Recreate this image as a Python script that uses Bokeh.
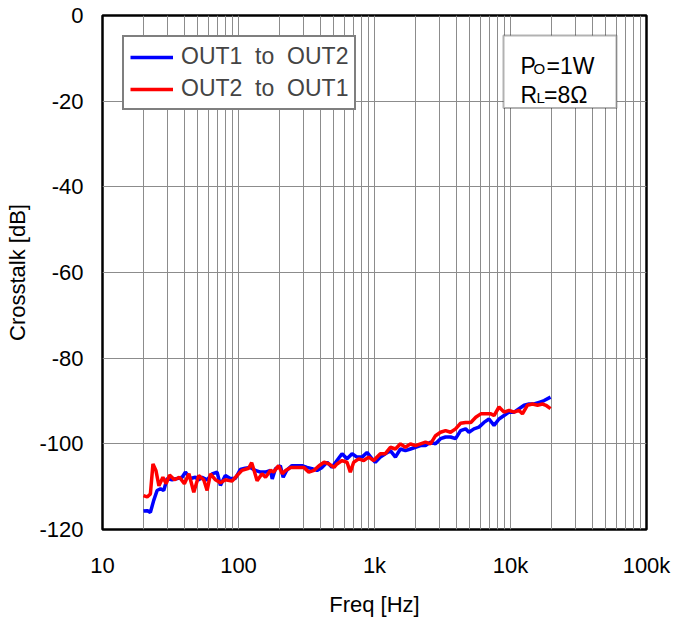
from bokeh.plotting import figure
from bokeh.models import (FixedTicker, Legend, LegendItem, BoxAnnotation, Label,
                          CustomJSTickFormatter)
from bokeh.embed import file_html
from bokeh.resources import INLINE

# ---- data ----
freq_out1 = [20, 21.3, 22.5, 23.8, 25.2, 26.7, 28.2, 29.9, 32.5, 35.4,
             38.5, 40.7, 44.3, 48.2, 51, 53.9, 58.8, 64, 69.6, 73.6,
             80, 87.1, 94.8, 103, 112, 122, 133, 145, 158, 172,
             177, 187, 203, 213, 226, 246, 270, 293, 319, 347,
             378, 412, 448, 487, 530, 577, 628, 684, 744, 810,
             881, 959, 1014, 1104, 1202, 1309, 1425, 1551, 1688, 1838,
             2001, 2178, 2371, 2581, 2810, 3059, 3330, 3625, 3946, 4296,
             4677, 4947, 5386, 5863, 6383, 6948, 7564, 8234, 8964, 9758,
             10623, 11564, 12589, 13705, 14920, 16242, 17681, 19700]
db_out1 = [-115.7, -115.6, -116.0, -113.2, -110.9, -110.5, -110.9, -108.1, -108.4, -108.1,
           -107.8, -106.6, -108.1, -107.8, -108.4, -107.8, -108.4, -107.0, -106.6, -109.7,
           -107.4, -108.1, -108.1, -106.0, -105.7, -105.5, -106.2, -106.6, -106.6, -106.2,
           -108.2, -105.8, -105.1, -107.8, -106.2, -105.1, -105.1, -105.1, -105.5, -105.8,
           -106.2, -105.5, -104.3, -105.5, -103.9, -102.3, -103.5, -102.3, -103.1, -103.1,
           -102.0, -103.5, -104.3, -103.1, -102.3, -101.6, -103.1, -101.2, -101.6, -101.2,
           -100.8, -100.4, -100.4, -99.6, -100.0, -98.8, -98.4, -98.4, -98.8, -96.9,
           -96.5, -97.3, -96.5, -96.1, -95.0, -94.2, -95.7, -94.2, -93.4, -92.6,
           -92.6, -91.8, -91.0, -90.7, -90.7, -90.3, -89.9, -89.1]

freq_out2 = [20, 21.3, 22.5, 23.5, 24.7, 26, 27.8, 29.4, 31.1, 33.8,
             36.8, 40, 43.2, 46.9, 51, 55.5, 58.8, 62.2, 67.7, 73.6,
             80.1, 89.6, 97.6, 106, 118.8, 125, 131, 137, 149, 158,
             172, 181, 197, 210, 222, 242, 270, 302, 329, 359,
             391, 426, 463, 504, 530, 577, 628, 664, 703, 765,
             833, 906, 986, 1104, 1202, 1309, 1425, 1551, 1688, 1838,
             2001, 2178, 2371, 2581, 2810, 3059, 3330, 3625, 3946, 4296,
             4677, 5108, 5555, 6047, 6583, 7167, 7564, 8234, 8964, 9758,
             10623, 11564, 12240, 13300, 14500, 15800, 17200, 18200, 19700]
db_out2 = [-112.1, -112.4, -111.7, -104.7, -106.2, -109.8, -107.8, -109.3, -107.3, -108.4,
           -107.8, -109.3, -107.0, -111.3, -107.4, -108.4, -110.9, -107.0, -108.4, -109.1,
           -108.4, -108.7, -107.4, -106.2, -105.7, -104.4, -106.5, -108.6, -107.0, -107.8,
           -106.2, -106.6, -105.1, -107.0, -106.2, -105.5, -105.5, -105.5, -106.6, -106.2,
           -105.1, -104.3, -104.7, -105.5, -104.7, -103.9, -104.3, -106.6, -104.3, -103.5,
           -103.9, -103.1, -103.9, -102.3, -102.3, -100.8, -101.2, -100.0, -100.8, -100.0,
           -100.4, -100.0, -99.6, -100.0, -98.1, -97.3, -96.9, -97.3, -96.5, -95.2,
           -95.0, -95.0, -93.8, -93.0, -93.0, -93.0, -93.4, -91.4, -92.6, -92.2,
           -92.6, -92.2, -93.0, -91.0, -90.7, -91.0, -90.7, -91.0, -91.8]

series_labels = ["OUT1\u00a0\u00a0to\u00a0\u00a0OUT2", "OUT2\u00a0\u00a0to\u00a0\u00a0OUT1"]
x_ticks = [10, 100, 1000, 10000, 100000]
x_tick_labels = ["10", "100", "1k", "10k", "100k"]
y_ticks = [0, -20, -40, -60, -80, -100, -120]

FONT = "Liberation Sans"
GRID = "#8c8c8c"

p = figure(width=690, height=620, x_axis_type="log",
           x_range=(10, 100000), y_range=(-120, 0),
           output_backend="svg", toolbar_location=None,
           min_border_left=102, min_border_right=44,
           min_border_top=15, min_border_bottom=91)
p.background_fill_color = "white"
p.border_fill_color = "white"
p.outline_line_color = "black"
p.outline_line_width = 2.5

minor = [m * d for d in x_ticks[:-1] for m in range(2, 10)]
p.xaxis.ticker = FixedTicker(ticks=x_ticks, minor_ticks=minor)
p.yaxis.ticker = FixedTicker(ticks=y_ticks)
p.xaxis.formatter = CustomJSTickFormatter(args=dict(tv=x_ticks, tl=x_tick_labels), code="""
    for (let i = 0; i < tv.length; i++) {
        if (Math.abs(Math.log10(tick) - Math.log10(tv[i])) < 1e-6) return tl[i];
    }
    return '';
""")
p.yaxis.formatter = CustomJSTickFormatter(code="return String(Math.round(tick));")

for ax in (p.xaxis, p.yaxis):
    ax.axis_line_color = None
    ax.major_tick_line_color = None
    ax.minor_tick_line_color = None
    ax.major_tick_out = 0
    ax.major_tick_in = 0
    ax.minor_tick_out = 0
    ax.minor_tick_in = 0
    ax.major_label_text_font = FONT
    ax.major_label_text_font_size = "22px"
    ax.major_label_text_color = "black"
    ax.axis_label_text_font = FONT
    ax.axis_label_text_font_size = "22px"
    ax.axis_label_text_font_style = "normal"
    ax.axis_label_text_color = "black"

p.xaxis.axis_label = "Freq [Hz]"
p.yaxis.axis_label = "Crosstalk [dB]"
p.xaxis.major_label_standoff = 23
p.xaxis.axis_label_standoff = 11
p.yaxis.major_label_standoff = 19
p.yaxis.axis_label_standoff = 6

p.xgrid.grid_line_color = GRID
p.xgrid.minor_grid_line_color = GRID
p.xgrid.grid_line_width = 1
p.xgrid.minor_grid_line_width = 1
p.ygrid.grid_line_color = GRID
p.ygrid.minor_grid_line_color = None

r1 = p.line(freq_out1, db_out1, line_color="#0000FF", line_width=3.5)
r2 = p.line(freq_out2, db_out2, line_color="#FF0000", line_width=3.5)

legend = Legend(items=[LegendItem(label=series_labels[0], renderers=[r1]),
                       LegendItem(label=series_labels[1], renderers=[r2])],
                location="top_left", margin=20, padding=6, spacing=5,
                glyph_width=43, glyph_height=24, label_height=24, label_standoff=8,
                label_text_font=FONT, label_text_font_size="23px",
                border_line_color="black", border_line_width=2,
                background_fill_color="white", background_fill_alpha=1)
p.add_layout(legend)

# helpers to place annotation pieces by pixel position
def fx(px):
    return 10 ** (1 + (px - 102) / 136.0)

def fy(py):
    return -(py - 15) / (514 / 120.0)

p.add_layout(BoxAnnotation(left=fx(503), right=fx(616), top=fy(35), bottom=fy(107.5),
                           fill_color="white", fill_alpha=1,
                           line_color="black", line_width=2))

pieces = [("P", 520, 65.7, "23px"), ("O", 533, 67.7, "15px"), ("=1W", 546, 65.7, "23px"),
          ("R", 520, 94, "23px"), ("L", 536, 96.7, "15px"), ("=8Ω", 543.5, 94, "23px")]
for t, px, py, fs in pieces:
    p.add_layout(Label(x=fx(px), y=fy(py), text=t, text_font=FONT, text_font_size=fs,
                       text_baseline="alphabetic", text_align="left", text_color="black"))

open("out.html", "w").write(file_html(p, INLINE))
